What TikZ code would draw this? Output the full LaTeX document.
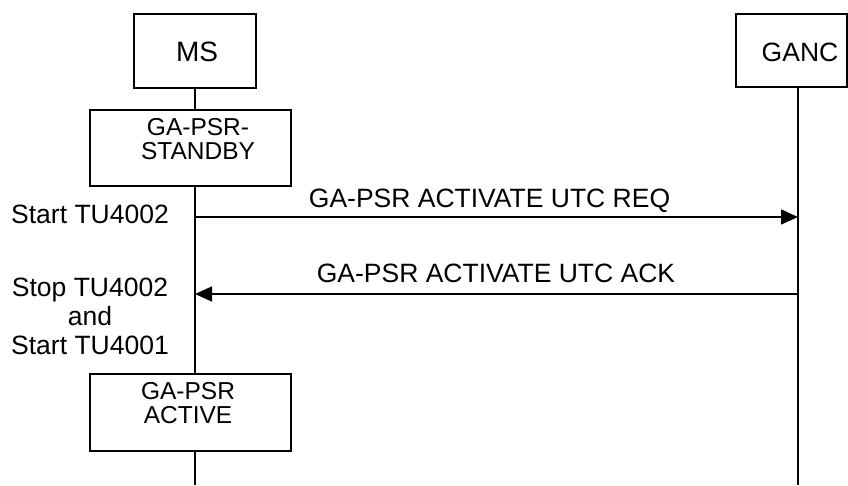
\documentclass[tikz,border=0pt]{standalone}
\usepackage{fontspec}
\setmainfont{Liberation Sans}
\usetikzlibrary{arrows.meta}
\begin{document}
\begin{tikzpicture}[x=1pt,y=-1pt,
  every node/.style={font=\fontsize{26.5}{29}\selectfont},
  box/.style={draw, line width=1.5pt, inner sep=0pt},
  txt/.style={inner sep=0pt, align=center},
  stxt/.style={inner sep=0pt, align=center, font=\fontsize{24.5}{24.5}\selectfont},
  life/.style={line width=1.6pt},
  msg/.style={line width=1.3pt, -{Triangle[length=17pt,width=15pt]}}]
\useasboundingbox (0,0) rectangle (848,485);
% entity boxes
\node[box, minimum width=122pt, minimum height=74pt] (ms) at (195,51) {};
\node[txt, font=\fontsize{28}{30}\selectfont] (mst) at (197,52) {MS};
\node[box, minimum width=111pt, minimum height=73pt] (ganc) at (791.5,50.5) {};
\node[txt] (ganct) at (800,52) {GANC};
% state boxes
\node[box, minimum width=201pt, minimum height=76pt] (sb) at (190.5,148) {};
\node[stxt] (sbt) at (198,139) {GA-PSR-\\STANDBY};
\node[box, minimum width=201pt, minimum height=77pt] (act) at (190.5,412.5) {};
\node[stxt] (actt) at (188,403) {GA-PSR\\ACTIVE};
% lifeline coordinates
\coordinate (msx) at (195,0);
\coordinate (msend) at (195,485);
\coordinate (gancend) at (798,485);
\coordinate (gtop) at (798,87);
\coordinate (ms1) at (195,217);
\coordinate (g1) at (798,217);
\coordinate (g2) at (798,294);
\coordinate (ms2) at (195,294);
\draw[life] (ms.south) -- (msx |- sb.north);
\draw[life] (msx |- sb.south) -- (msx |- act.north);
\draw[life] (msx |- act.south) -- (msend);
\draw[life] (gtop) -- (gancend);
% messages
\draw[msg] (ms1) -- (g1);
\draw[msg] (g2) -- (ms2);
\node[txt, anchor=base] (req) at (489.5,207) {GA-PSR ACTIVATE UTC REQ};
\node[txt, anchor=base] (ack) at (496,282) {GA-PSR ACTIVATE UTC ACK};
% timer labels
\node[txt, anchor=base] (t1) at (90,223) {Start TU4002};
\node[txt, anchor=north] (t2) at (90,278) {Stop TU4002\\and\\Start TU4001};
\end{tikzpicture}
\end{document}
